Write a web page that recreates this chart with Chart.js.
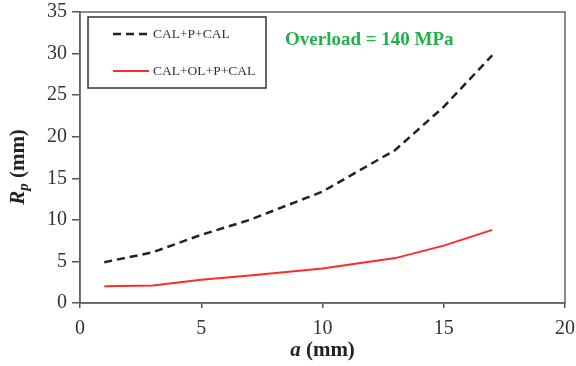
<!DOCTYPE html>
<html>
<head>
<meta charset="utf-8">
<script src="https://cdn.jsdelivr.net/npm/chart.js@4"></script>
<style>
  body { margin: 0; background: #fff; }
  #wrap { width: 576px; height: 366px; }
</style>
</head>
<body>
<div id="wrap"><canvas id="chart" width="576" height="366"></canvas></div>
<script>
const crackLength = [1, 3, 5, 7, 10, 13, 15, 17];
const rpNoOverload = [4.9, 6.1, 8.2, 10.0, 13.4, 18.4, 23.6, 29.8];
const rpOverload = [2.0, 2.1, 2.8, 3.3, 4.15, 5.4, 6.9, 8.8];
const xTicks = [0, 5, 10, 15, 20];
const yTicks = [0, 5, 10, 15, 20, 25, 30, 35];
const seriesNames = ['CAL+P+CAL', 'CAL+OL+P+CAL'];
const noteText = 'Overload = 140 MPa';

const serif = "'Liberation Serif', 'Times New Roman', serif";

function toPoints(xs, ys) {
    return xs.map((x, i) => ({ x: x, y: ys[i] }));
}

// box round the plot, legend, note and axis titles
const decorations = {
    id: 'decorations',
    afterDraw(chart) {
        const ctx = chart.ctx;
        const area = chart.chartArea;
        ctx.save();
        ctx.strokeStyle = '#666';
        ctx.lineWidth = 1.5;
        ctx.strokeRect(area.left, area.top, area.right - area.left, area.bottom - area.top);

        // legend box
        const lx = area.left + 8, ly = area.top + 5, lw = 178, lh = 71;
        ctx.strokeStyle = '#333';
        ctx.lineWidth = 1.5;
        ctx.strokeRect(lx, ly, lw, lh);
        chart.data.datasets.forEach((ds, i) => {
            const y = ly + 17 + i * 37;
            ctx.beginPath();
            ctx.setLineDash(ds.borderDash || []);
            ctx.strokeStyle = ds.borderColor;
            ctx.lineWidth = ds.borderWidth;
            ctx.moveTo(lx + 25, y);
            ctx.lineTo(lx + 61, y);
            ctx.stroke();
            ctx.setLineDash([]);
            ctx.fillStyle = '#333';
            ctx.font = '13.5px ' + serif;
            ctx.textBaseline = 'middle';
            ctx.textAlign = 'left';
            ctx.fillText(ds.label, lx + 65, y);
        });

        // note
        ctx.fillStyle = '#22b04b';
        ctx.font = 'bold 19px ' + serif;
        ctx.textBaseline = 'middle';
        ctx.textAlign = 'left';
        ctx.fillText(noteText, 285, 40);

        // x title: a (mm)
        ctx.fillStyle = '#222';
        const xs = chart.scales.x;
        const cx = (xs.left + xs.right) / 2;
        ctx.font = 'bold italic 21px ' + serif;
        const wa = ctx.measureText('a').width;
        ctx.font = 'bold 21px ' + serif;
        const wr = ctx.measureText(' (mm)').width;
        let sx = cx - (wa + wr) / 2;
        ctx.font = 'bold italic 21px ' + serif;
        ctx.fillText('a', sx, 351);
        ctx.font = 'bold 21px ' + serif;
        ctx.fillText(' (mm)', sx + wa, 351);

        // y title: Rp (mm), rotated
        ctx.translate(19, 167);
        ctx.rotate(-Math.PI / 2);
        ctx.font = 'bold italic 21px ' + serif;
        const wR = ctx.measureText('R').width;
        ctx.font = 'bold italic 15px ' + serif;
        const wp = ctx.measureText('p').width;
        ctx.font = 'bold 21px ' + serif;
        const wm = ctx.measureText(' (mm)').width;
        sx = -(wR + wp + wm) / 2;
        ctx.font = 'bold italic 21px ' + serif;
        ctx.fillText('R', sx, 0);
        ctx.font = 'bold italic 15px ' + serif;
        ctx.fillText('p', sx + wR, 5);
        ctx.font = 'bold 21px ' + serif;
        ctx.fillText(' (mm)', sx + wR + wp, 0);
        ctx.restore();
    }
};

const chart = new Chart(document.getElementById('chart').getContext('2d'), {
    type: 'line',
    data: {
        datasets: [
            {
                label: seriesNames[0],
                data: toPoints(crackLength, rpNoOverload),
                borderColor: '#222',
                borderWidth: 2.5,
                borderDash: [8, 5],
                pointRadius: 0,
                tension: 0,
                fill: false
            },
            {
                label: seriesNames[1],
                data: toPoints(crackLength, rpOverload),
                borderColor: '#ff2a2a',
                borderWidth: 2,
                pointRadius: 0,
                tension: 0,
                fill: false
            }
        ]
    },
    options: {
        responsive: false,
        animation: false,
        layout: { padding: { left: 0, right: 11, top: 12, bottom: 0 } },
        plugins: {
            legend: { display: false },
            tooltip: { enabled: false }
        },
        scales: {
            x: {
                type: 'linear',
                min: 0,
                max: 20,
                afterBuildTicks: axis => { axis.ticks = xTicks.map(v => ({ value: v })); },
                afterFit: axis => {
                    axis.height = 63;
                    axis.paddingLeft = 0;
                    axis.paddingRight = 0;
                },
                border: { color: '#555', width: 1.5 },
                grid: { drawOnChartArea: false, tickLength: 5, color: '#555', lineWidth: 1.5 },
                ticks: { color: '#333', font: { family: serif, size: 20 }, padding: 9 }
            },
            y: {
                type: 'linear',
                min: 0,
                max: 35,
                afterBuildTicks: axis => { axis.ticks = yTicks.map(v => ({ value: v })); },
                afterFit: axis => {
                    axis.width = 80;
                    axis.paddingTop = 0;
                    axis.paddingBottom = 0;
                },
                border: { color: '#555', width: 1.5 },
                grid: { drawOnChartArea: false, tickLength: 8, color: '#555', lineWidth: 1.5 },
                ticks: { color: '#333', font: { family: serif, size: 20 }, padding: 5 }
            }
        }
    },
    plugins: [decorations]
});
</script>
</body>
</html>
